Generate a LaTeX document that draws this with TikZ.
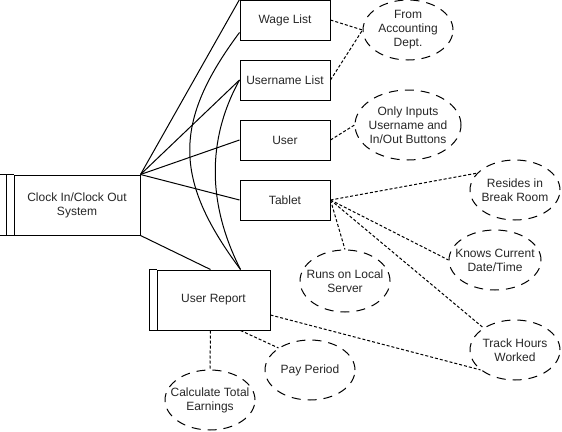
\documentclass[tikz,border=0pt]{standalone}
\usepackage{fontspec}
\setmainfont{Liberation Sans}
\usetikzlibrary{shapes.geometric, calc}

\begin{document}
\begin{tikzpicture}[x=1pt, y=1pt, line width=1pt,
        font=\fontsize{12}{14}\selectfont, text=black!85,
        box/.style={draw, rectangle, minimum width=90pt, minimum height=40pt, align=center},
        note/.style={draw, ellipse, dash pattern=on 9pt off 7pt, inner sep=-20pt,
            minimum width=90pt, minimum height=60pt, align=center},
        link/.style={dash pattern=on 3pt off 2pt}]
        \useasboundingbox (0,0) rectangle (562,-431);

        \node[box, minimum width=126pt, minimum height=60pt] (clock) at (77,-205) {Clock In/Clock Out\\System}; % system
        \node[box] (wage) at (285,-20) {Wage List}; % wage
        \node[box] (names) at (285,-80) {Username List}; % names
        \node[box] (user) at (285,-140) {User}; % user
        \node[box] (tablet) at (285,-200) {Tablet}; % tablet
        \node[box, minimum width=113pt, minimum height=60pt] (report) at (213.5,-300) {User Report}; % report

        \node[note] (acct) at (408,-30) {From\\Accounting\\Dept.};
        \node[note, minimum width=106pt, minimum height=70pt] (inputs) at (408,-125) {Only Inputs\\Username and\\In/Out Buttons};
        \node[note] (resides) at (515,-190) {Resides in\\Break Room};
        \node[note, minimum width=92pt] (knows) at (495,-260) {Knows Current\\Date/Time};
        \node[note, minimum height=62pt] (server) at (345,-281) {Runs on Local\\Server};
        \node[note] (track) at (515,-350) {Track Hours\\Worked};
        \node[note] (pay) at (310,-370) {Pay Period};
        \node[note] (calc) at (210,-400) {Calculate Total\\Earnings};

        % side bars of the process boxes
        \draw (clock.north west) -- ++(-14,0) |- (clock.south west);
        \draw ([xshift=-7pt]clock.north west) -- ([xshift=-7pt]clock.south west);
        \draw (report.north west) -- ++(-7,0) |- (report.south west);

        \draw
            (clock.north east) edge (wage.north west)
            (clock.north east) edge (names.west)
            (clock.north east) edge (user.west)
            (clock.north east) edge (tablet.west)
            (clock.south east) edge ([xshift=-3pt]report.north)
            ;
        \draw ([yshift=8pt]wage.south west) .. controls +(-67,-90) and +(-67,90) .. ([xshift=27pt]report.north);
        \draw (names.west) .. controls +(-33,-60) and +(-33,65) .. ([xshift=27pt]report.north);

        \draw[link]
            (wage.east) edge (acct.west)
            (names.east) edge (acct.west)
            (user.east) edge (inputs.west)
            (tablet.east) edge (resides.156)
            (tablet.east) edge (knows.west)
            (tablet.east) edge (server.north)
            (tablet.east) edge (track.145)
            ([yshift=-15pt]report.east) edge (track.210)
            ([xshift=27pt]report.south) edge (pay.145)
            ([xshift=-3pt]report.south) edge (calc.north)
            ;
    \end{tikzpicture}
\end{document}
